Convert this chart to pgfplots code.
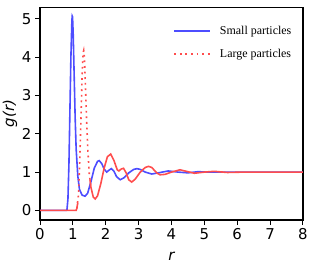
\documentclass[border=0pt]{standalone}
\usepackage{fontspec}
\setmainfont{DejaVu Sans}
\newfontfamily\serif{Liberation Serif}
\usepackage{pgfplots}
\pgfplotsset{compat=1.18}
\definecolor{myblue}{RGB}{77,77,255}
\definecolor{myred}{RGB}{255,77,77}
\begin{document}
\begin{tikzpicture}
\useasboundingbox (0,0) rectangle (313bp,265bp);
\begin{axis}[
  at={(40bp,45bp)}, anchor=south west,
  scale only axis, width=263bp, height=212.7bp,
  xmin=0, xmax=8, ymin=-0.25, ymax=5.3,
  xtick={0,1,...,8}, ytick={0,1,...,5},
  tick align=outside, tick pos=left,
  major tick length=5bp,
  every tick/.style={black, line width=1bp},
  axis line style={line width=1.2bp},
  /pgf/number format/assume math mode=true,
  ticklabel style={font=\fontsize{15}{16}\selectfont},
  xlabel={\itshape r}, ylabel={\itshape g(r)},
  label style={font=\fontsize{15}{16}\selectfont},
  xlabel style={yshift=-5bp},
  ylabel style={yshift=-2bp},
  legend style={draw=none, fill=none, at={(axis description cs:0.495,0.93)}, anchor=north west,
    font=\serif\fontsize{12}{14}\selectfont, row sep=9bp},
  legend cell align=left,
  legend image code/.code={\draw[#1] plot coordinates {(0bp,0bp) (36bp,0bp)}; \path (43bp,0bp);},
]
\addplot[myblue, line width=1.6bp] coordinates {
(0,0) (0.80,0) (0.82,0.02) (0.85,0.3) (0.88,1.2) (0.91,2.6) (0.94,4.0) (0.97,4.95) (0.98,5.07) (0.99,5.05) (1.01,4.6) (1.04,3.5) (1.07,2.4) (1.10,1.6) (1.15,0.9) (1.2,0.55) (1.28,0.4) (1.37,0.37) (1.45,0.45) (1.55,0.75) (1.65,1.1) (1.75,1.28) (1.8,1.3) (1.88,1.22) (1.95,1.08) (2.03,1.0) (2.1,1.05) (2.17,1.09) (2.25,1.02) (2.33,0.88) (2.44,0.80) (2.55,0.85) (2.7,0.98) (2.85,1.07) (2.95,1.09) (3.05,1.07) (3.2,1.0) (3.4,0.95) (3.6,0.98) (3.9,1.03) (4.2,1.0) (4.5,0.98) (4.8,1.01) (5.2,1.0) (6,1.0) (8,1.0)
};
\addlegendentry{Small particles}
\addplot[myred, line width=1.6bp, dash pattern=on 1.8bp off 3.8bp] coordinates {
(1.12,0.05) (1.17,0.4) (1.21,1.3) (1.25,2.5) (1.28,3.5) (1.31,4.1) (1.33,4.17) (1.35,4.0) (1.38,3.3) (1.42,2.3) (1.46,1.5) (1.5,0.95) (1.55,0.6)
};
\addlegendentry{Large particles}
\addplot[myred, line width=1.6bp, forget plot] coordinates {
(0,0) (1.10,0) (1.12,0.05) (1.15,0.2)
};
\addplot[myred, line width=1.6bp, forget plot] coordinates {
(1.52,0.8) (1.55,0.6) (1.62,0.35) (1.68,0.3) (1.75,0.38) (1.85,0.7) (1.95,1.1) (2.05,1.4) (2.15,1.47) (2.25,1.3) (2.35,1.06) (2.4,1.03) (2.47,1.08) (2.54,1.1) (2.62,0.98) (2.7,0.8) (2.79,0.74) (2.9,0.82) (3.05,1.0) (3.2,1.12) (3.3,1.15) (3.4,1.12) (3.55,0.98) (3.65,0.93) (3.8,0.94) (4.0,1.0) (4.26,1.06) (4.45,1.02) (4.7,0.97) (5.0,1.0) (5.3,1.02) (5.7,0.99) (6.2,1.0) (8,1.0)
};
\end{axis}
\end{tikzpicture}
\end{document}
